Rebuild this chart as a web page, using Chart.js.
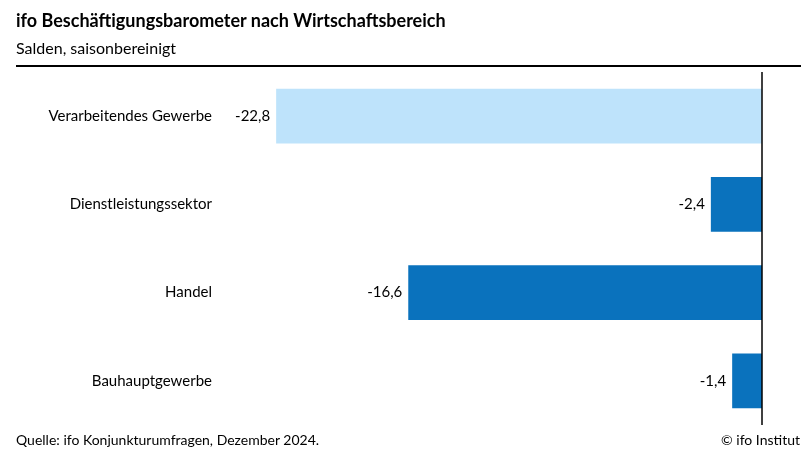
<!DOCTYPE html>
<html><head><meta charset="utf-8">
<script src="https://cdn.jsdelivr.net/npm/chart.js@4"></script>
<style>
body{margin:0;background:#fff;font-family:Lato,"Noto Sans",sans-serif;}
#wrap{position:relative;width:808px;height:458px;}
canvas{position:absolute;left:0;top:0;}
.t{position:absolute;left:16px;top:9px;font-size:18px;font-weight:bold;color:#000;}
.s{position:absolute;left:16px;top:38px;font-size:16px;color:#000;}
.rule{position:absolute;left:16px;top:65px;width:785px;height:2px;background:#000;}
.f1{position:absolute;left:16px;top:431px;font-size:14px;}
.f2{position:absolute;right:8px;top:431px;font-size:14px;}
</style></head>
<body><div id="wrap">
<canvas id="c" width="808" height="458"></canvas>
<div class="t">ifo Beschäftigungsbarometer nach Wirtschaftsbereich</div>
<div class="s">Salden, saisonbereinigt</div>
<div class="rule"></div>
<div class="f1">Quelle: ifo Konjunkturumfragen, Dezember 2024.</div>
<div class="f2">© ifo Institut</div>
</div>
<script>
const categories = ['Verarbeitendes Gewerbe', 'Dienstleistungssektor', 'Handel', 'Bauhauptgewerbe'];
const values = [-22.8, -2.4, -16.6, -1.4];
const barColors = ['#bee3fb', '#0a72bd', '#0a72bd', '#0a72bd'];

const labelsPlugin = {
  id: 'labels',
  afterDraw(chart) {
    const c = chart.ctx, xs = chart.scales.x, ys = chart.scales.y;
    c.save();
    c.font = '15px Lato, "Noto Sans", sans-serif';
    c.fillStyle = '#000';
    c.textBaseline = 'middle';
    categories.forEach((cat, i) => {
      const y = ys.getPixelForValue(i);
      c.textAlign = 'right';
      c.fillText(cat, 212, y);
      c.fillText(values[i].toFixed(1).replace('.', ','), xs.getPixelForValue(values[i]) - 6, y);
    });
    const x0 = xs.getPixelForValue(0);
    c.strokeStyle = '#000'; c.lineWidth = 1.5;
    c.beginPath(); c.moveTo(x0, 72); c.lineTo(x0, 425); c.stroke();
    c.restore();
  }
};

new Chart(document.getElementById('c'), {
  type: 'bar',
  data: { labels: categories, datasets: [{ data: values, backgroundColor: barColors,
    categoryPercentage: 1, barPercentage: 0.62 }] },
  options: {
    indexAxis: 'y', responsive: false, animation: false,
    layout: { padding: { top: 72, bottom: 33, left: 225, right: 46 } },
    plugins: { legend: { display: false }, tooltip: { enabled: false } },
    scales: {
      x: { display: false, min: -25.2, max: 0 },
      y: { display: false }
    }
  },
  plugins: [labelsPlugin]
});
</script></body></html>
